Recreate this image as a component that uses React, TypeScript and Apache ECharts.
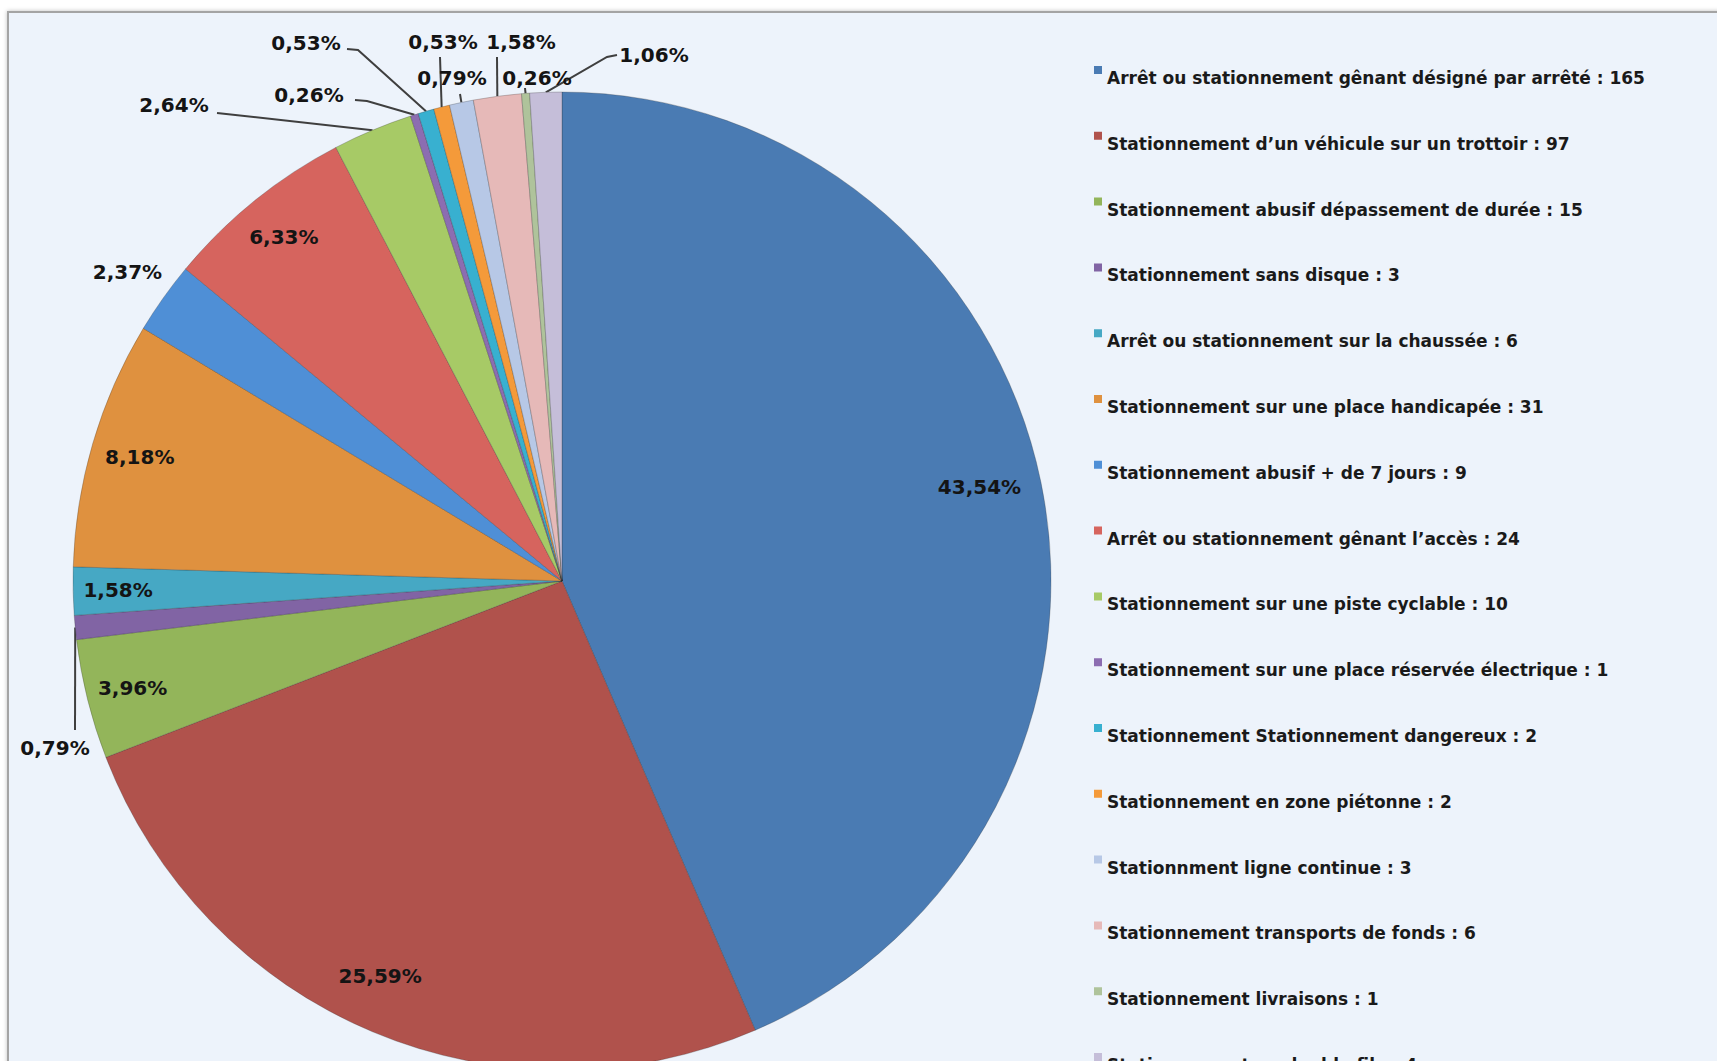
import React, { useEffect, useRef } from "react";
import * as echarts from "echarts";

// ---- data ----
const CATEGORIES: string[] = [
  "Arrêt ou stationnement gênant désigné par arrêté",
  "Stationnement d’un véhicule sur un trottoir",
  "Stationnement abusif dépassement de durée",
  "Stationnement sans disque",
  "Arrêt ou stationnement sur la chaussée",
  "Stationnement sur une place handicapée",
  "Stationnement abusif + de 7 jours",
  "Arrêt ou stationnement gênant l’accès",
  "Stationnement sur une piste cyclable",
  "Stationnement sur une place réservée électrique",
  "Stationnement Stationnement dangereux",
  "Stationnement en zone piétonne",
  "Stationnment ligne continue",
  "Stationnement transports de fonds",
  "Stationnement livraisons",
  "Stationnement en double file",
];
const VALUES: number[] = [165, 97, 15, 3, 6, 31, 9, 24, 10, 1, 2, 2, 3, 6, 1, 4];
const COLORS: string[] = [
  "#4A7BB3", "#B0524C", "#93B55A", "#8164A4", "#46A8C4", "#DF913F",
  "#4F8FD6", "#D6645E", "#A7CA66", "#8C6DB1", "#38B0D0", "#F49A3A",
  "#B7C8E6", "#E6B9B8", "#AFC39B", "#C5BED9",
];

// ---- layout (styles, not data) ----
const PIE_CENTER = [562, 581];
const PIE_RADIUS = 489;
const FONT = "DejaVu Sans";
// label placement: k = radial factor along the slice's mid angle (da = angle nudge, degrees),
// or `at` = label centre relative to the pie centre with leader-line elbows
type Spot = { k?: number; da?: number; at?: number[]; line?: number[][] };
const LABEL_SPOTS: Spot[] = [
  { k: 0.875, da: -1 },
  { k: 0.89, da: 1.9 },
  { k: 0.905 },
  { at: [-507, 167], line: [[-487, 149]] },
  { k: 0.908 },
  { k: 0.9 },
  { k: 1.09 },
  { k: 0.905 },
  { at: [-388, -476], line: [[-345, -468]] },
  { at: [-253, -486], line: [[-195, -480], [-207, -481]] },
  { at: [-256, -538], line: [[-204, -531], [-215, -532]] },
  { at: [-119, -539], line: [[-122, -524]] },
  { at: [-110, -503], line: [[-102, -487]] },
  { at: [-41, -539], line: [[-65, -524]] },
  { at: [-25, -503], line: [[-37, -493]] },
  { at: [92, -526], line: [[45, -524], [55, -526]] },
];

const TOTAL = VALUES.reduce((a, b) => a + b, 0);

function midAngle(i: number): number {
  let before = 0;
  for (let j = 0; j < i; j++) before += VALUES[j];
  const mid = (before + VALUES[i] / 2) / TOTAL;
  return mid * Math.PI * 2; // clockwise from 12 o'clock
}

export default function App() {
  const ref = useRef<HTMLDivElement>(null);

  useEffect(() => {
    if (!ref.current) return;
    const chart = echarts.init(ref.current, undefined, { renderer: "svg" });
    const data = CATEGORIES.map((name, i) => ({
      name,
      value: VALUES[i],
      itemStyle: { color: COLORS[i] },
      labelLine: { show: !!LABEL_SPOTS[i].at },
    }));

    chart.setOption({
      animation: false,
      backgroundColor: "#ffffff",
      graphic: [
        {
          type: "rect",
          z: 0,
          silent: true,
          shape: { x: 8, y: 12, width: 1718, height: 1100 },
          style: {
            fill: "#EDF3FB",
            stroke: "#A4A4A4",
            lineWidth: 2,
            shadowBlur: 4,
            shadowColor: "rgba(0,0,0,0.25)",
          },
        },
      ],
      legend: {
        orient: "vertical",
        left: 1089,
        top: 61,
        height: 1400,
        itemWidth: 8,
        itemHeight: 24,
        itemGap: 41.8,
        icon: "path://M0 0H8V8H0Z M0 24H0.01V24.01H0Z",
        selectedMode: false,
        itemStyle: { borderWidth: 0 },
        textStyle: {
          fontFamily: FONT,
          fontWeight: "bold",
          fontSize: 17,
          lineHeight: 24,
          color: "#1a1a1a",
        },
        formatter: (name: string) => {
          const i = CATEGORIES.indexOf(name);
          return `${name} : ${VALUES[i]}`;
        },
        data: CATEGORIES,
      },
      series: [
        {
          type: "pie",
          center: PIE_CENTER,
          radius: PIE_RADIUS,
          startAngle: 90,
          clockwise: true,
          avoidLabelOverlap: false,
          itemStyle: { borderColor: "rgba(40,40,40,0.25)", borderWidth: 1 },
          emphasis: { disabled: true },
          label: {
            show: true,
            position: "outside",
            fontFamily: FONT,
            fontWeight: "bold",
            fontSize: 20,
            color: "#141414",
            formatter: (p: any) =>
              ((p.value / TOTAL) * 100).toFixed(2).replace(".", ",") + "%",
          },
          labelLine: {
            show: true,
            lineStyle: { color: "#3f3f3f", width: 2 },
          },
          labelLayout: (p: any) => {
            const i = p.dataIndex;
            const s = LABEL_SPOTS[i];
            const a = midAngle(i);
            const [cx, cy] = PIE_CENTER;
            if (s.k != null) {
              const b = a + ((s.da || 0) * Math.PI) / 180;
              return {
                x: cx + PIE_RADIUS * s.k * Math.sin(b),
                y: cy - PIE_RADIUS * s.k * Math.cos(b),
                align: "center",
                verticalAlign: "middle",
              };
            }
            const at = s.at as number[];
            const edge = [
              cx + PIE_RADIUS * Math.sin(a),
              cy - PIE_RADIUS * Math.cos(a),
            ];
            const pts = [edge].concat(
              (s.line || []).map((q) => [cx + q[0], cy + q[1]])
            );
            return {
              x: cx + at[0],
              y: cy + at[1],
              align: "center",
              verticalAlign: "middle",
              labelLinePoints: pts,
            };
          },
          data,
        },
      ],
    });

    return () => chart.dispose();
  }, []);

  return (
    <div
      ref={ref}
      style={{ position: "absolute", left: 0, top: 0, width: 1717, height: 1061 }}
    />
  );
}
